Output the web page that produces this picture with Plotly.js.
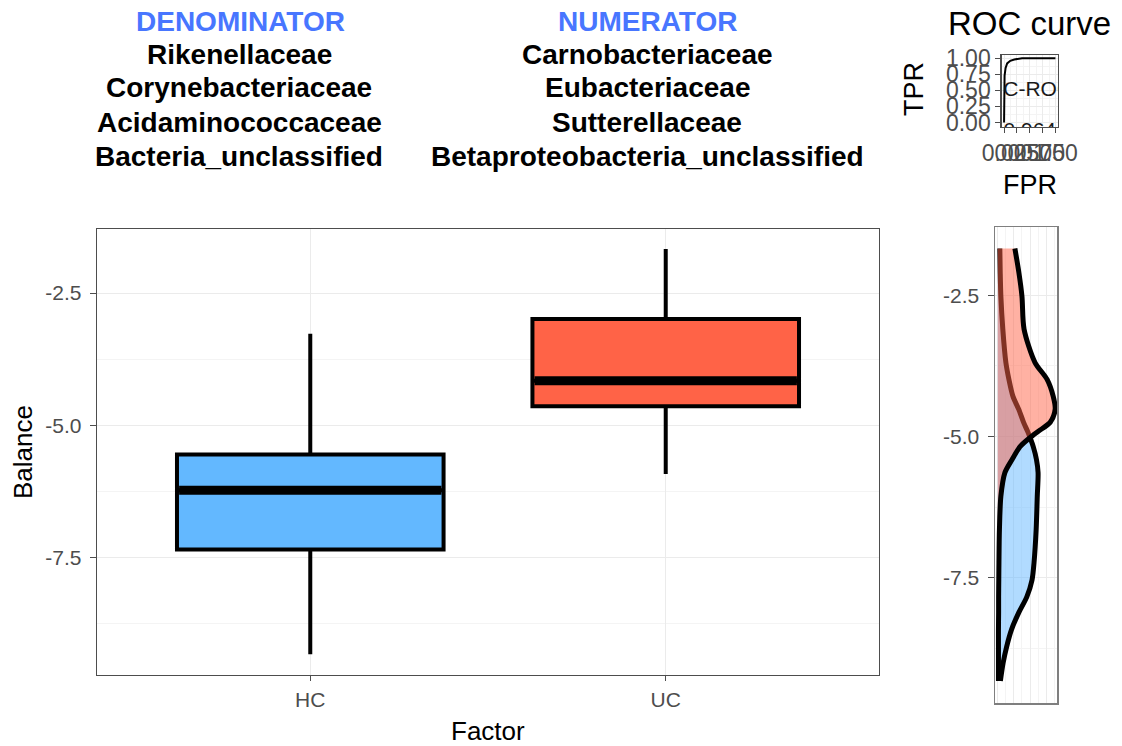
<!DOCTYPE html>
<html>
<head>
<meta charset="utf-8">
<script src="https://cdn.plot.ly/plotly-3.0.1.min.js"></script>
<style>
  html, body { margin: 0; padding: 0; background: #ffffff; }
  #chart { width: 1122px; height: 746px; }
</style>
</head>
<body>
<div id="chart"></div>
<script>
// ---- Balance box plot (per group summary) ----
const categories = ['HC', 'UC'];
const boxLowerFence = [-9.33, -5.92];
const boxQ1 = [-7.35, -4.64];
const boxMedian = [-6.23, -4.16];
const boxQ3 = [-5.55, -2.99];
const boxUpperFence = [-3.27, -1.67];
const boxColors = ['#63B8FF', '#FF6347'];

// ---- Balance densities (flipped: balance on y, density on x) ----
const densityBalance = [-1.67, -2.1, -2.52, -3.1, -3.69, -3.99, -4.29, -4.52, -4.75, -4.91, -5.02, -5.18,
                        -5.41, -5.64, -6.06, -6.65, -7.23, -7.54, -7.84, -8.12, -8.42, -8.72, -9.01, -9.33];
const densityHC = [0.0125, 0.015, 0.019, 0.031, 0.05, 0.069, 0.094, 0.13, 0.16, 0.185, 0.20, 0.22,
                   0.24, 0.25, 0.245, 0.238, 0.225, 0.2125, 0.18, 0.13, 0.085, 0.055, 0.033, 0.016];
const densityUC = [0.106, 0.131, 0.150, 0.163, 0.231, 0.306, 0.344, 0.356, 0.325, 0.25, 0.20, 0.138,
                   0.088, 0.044, 0.019, 0.010, 0.007, 0.006, 0.005, 0.005, 0.004, 0.004, 0.004, 0.004];
const densityFills = ['rgba(99,184,255,0.5)', 'rgba(255,99,71,0.5)'];

// ---- ROC curve ----
const rocFPR = [0, 0, 0.01, 0.03, 0.06, 0.12, 0.2, 0.35, 0.6, 1];
const rocTPR = [0, 0.5, 0.73, 0.85, 0.92, 0.96, 0.98, 1, 1, 1];
const rocLabels = ['AUC-ROC', '0.964'];
const rocLabelX = [0.37, 0.5];
const rocLabelY = [0.5, -0.15];

// ---- Balance composition ----
const denominatorTaxa = ['Rikenellaceae', 'Corynebacteriaceae', 'Acidaminococcaceae', 'Bacteria_unclassified'];
const numeratorTaxa = ['Carnobacteriaceae', 'Eubacteriaceae', 'Sutterellaceae', 'Betaproteobacteria_unclassified'];

// axis ticks
const balanceTicks = [-7.5, -5.0, -2.5];
const balanceTickText = ['-7.5', '-5.0', '-2.5'];
const balanceMinor = [-8.75, -6.25, -3.75];
const rocTicks = [0, 0.25, 0.5, 0.75, 1];
const rocTickText = ['0.00', '0.25', '0.50', '0.75', '1.00'];

const W = 1122, H = 746;
const px = v => v / W;
const py = v => 1 - v / H;
const FONT = 'Liberation Sans, Arial, Helvetica, sans-serif';
const BOX_WIDTH = 0.75;
const GRID = '#EBEBEB';
const GRID_MINOR = '#F4F4F4';
const BORDER = '#4D4D4D';
const TICKCOL = '#4D4D4D';

const traces = [];

categories.forEach((cat, i) => {
  const pos = i + 1;
  traces.push({
    type: 'box', x: [pos], xaxis: 'x', yaxis: 'y',
    q1: [boxQ1[i]], median: [boxMedian[i]], q3: [boxQ3[i]],
    lowerfence: [boxLowerFence[i]], upperfence: [boxUpperFence[i]],
    width: BOX_WIDTH, whiskerwidth: 0, boxpoints: false,
    fillcolor: boxColors[i], line: { color: '#000000', width: 4 },
    hoverinfo: 'skip', name: cat
  });
  // heavier median bar
  traces.push({
    type: 'scatter', mode: 'lines', xaxis: 'x', yaxis: 'y',
    x: [pos - BOX_WIDTH / 2 + 0.006, pos + BOX_WIDTH / 2 - 0.006],
    y: [boxMedian[i], boxMedian[i]],
    line: { color: '#000000', width: 9 }, hoverinfo: 'skip'
  });
});

[densityHC, densityUC].forEach((d, i) => {
  traces.push({
    type: 'scatter', mode: 'lines', xaxis: 'x3', yaxis: 'y3',
    x: d, y: densityBalance, fill: 'tozerox', fillcolor: densityFills[i],
    line: { color: '#000000', width: 5, shape: 'spline', smoothing: 0.8 },
    hoverinfo: 'skip', name: categories[i]
  });
});

traces.push({
  type: 'scatter', mode: 'lines', xaxis: 'x2', yaxis: 'y2',
  x: rocFPR, y: rocTPR, line: { color: '#000000', width: 2 }, hoverinfo: 'skip'
});
traces.push({
  type: 'scatter', mode: 'text', xaxis: 'x2', yaxis: 'y2',
  x: rocLabelX, y: rocLabelY, text: rocLabels, cliponaxis: true,
  textfont: { family: FONT, size: 21, color: '#1A1A1A' }, hoverinfo: 'skip'
});

const tickFont = { family: FONT, size: 21, color: TICKCOL };
const rocTickFont = { family: FONT, size: 23, color: TICKCOL };

const annotations = [];
const header = (text, x, y, color) => annotations.push({
  text: '<b>' + text + '</b>', xref: 'paper', yref: 'paper', x: px(x), y: py(y),
  xanchor: 'center', yanchor: 'middle', showarrow: false,
  font: { family: FONT, size: 28, color: color }
});
header('DENOMINATOR', 240, 21, '#4876FF');
header('NUMERATOR', 647, 21, '#4876FF');
const rowY = [54, 88, 122, 156];
denominatorTaxa.forEach((t, i) => header(t, 239, rowY[i], '#000000'));
numeratorTaxa.forEach((t, i) => header(t, 647, rowY[i], '#000000'));

const plain = (text, x, y, size, angle) => annotations.push({
  text: text, xref: 'paper', yref: 'paper', x: px(x), y: py(y),
  xanchor: 'center', yanchor: 'middle', showarrow: false, textangle: angle || 0,
  font: { family: FONT, size: size, color: '#000000' }
});
plain('Balance', 23, 452, 26, -90);
plain('Factor', 488, 731, 26);
plain('ROC curve', 1029, 23, 33);
plain('TPR', 914, 89, 27, -90);
plain('FPR', 1030, 185, 27);

const layout = {
  width: W, height: H,
  margin: { l: 0, r: 0, t: 0, b: 0 },
  paper_bgcolor: '#ffffff', plot_bgcolor: '#ffffff',
  showlegend: false,
  font: { family: FONT },
  xaxis: {
    domain: [px(97), px(879)], anchor: 'y', range: [0.4, 2.6],
    tickmode: 'array', tickvals: [1, 2], ticktext: categories, tickangle: 0,
    showgrid: true, gridcolor: GRID, gridwidth: 1, zeroline: false,
    showline: true, mirror: true, linecolor: BORDER, linewidth: 1.3,
    ticks: 'outside', ticklen: 5, tickcolor: BORDER, tickfont: tickFont
  },
  yaxis: {
    domain: [py(675), py(229)], anchor: 'x', range: [-9.72, -1.29],
    tickmode: 'array', tickvals: balanceTicks, ticktext: balanceTickText,
    showgrid: true, gridcolor: GRID, gridwidth: 1, zeroline: false,
    minor: { tickmode: 'array', tickvals: balanceMinor, showgrid: true, gridcolor: GRID_MINOR, ticks: '' },
    showline: true, mirror: true, linecolor: BORDER, linewidth: 1.3,
    ticks: 'outside', ticklen: 6, tickcolor: BORDER, tickfont: tickFont, ticklabelstandoff: 4
  },
  xaxis2: {
    domain: [px(1001.5), px(1058)], anchor: 'y2', range: [-0.05, 1.05],
    tickmode: 'array', tickvals: rocTicks, ticktext: rocTickText, tickangle: 0,
    showgrid: true, gridcolor: GRID, zeroline: false,
    minor: { tickmode: 'array', tickvals: [0.125, 0.375, 0.625, 0.875], showgrid: true, gridcolor: GRID_MINOR, ticks: '' },
    showline: true, mirror: true, linecolor: BORDER, linewidth: 1.2,
    ticks: 'outside', ticklen: 5, tickcolor: BORDER, tickfont: rocTickFont
  },
  yaxis2: {
    domain: [py(127), py(55)], anchor: 'x2', range: [-0.07, 1.05],
    tickmode: 'array', tickvals: rocTicks, ticktext: rocTickText,
    showgrid: true, gridcolor: GRID, zeroline: false,
    minor: { tickmode: 'array', tickvals: [0.125, 0.375, 0.625, 0.875], showgrid: true, gridcolor: GRID_MINOR, ticks: '' },
    showline: true, mirror: true, linecolor: BORDER, linewidth: 1.2,
    ticks: 'outside', ticklen: 5, tickcolor: BORDER, tickfont: rocTickFont
  },
  xaxis3: {
    domain: [px(995), px(1057)], anchor: 'y3', range: [-0.0175, 0.3675],
    tickmode: 'array', tickvals: [0, 0.1, 0.2, 0.3], showticklabels: false, ticks: '',
    showgrid: true, gridcolor: GRID, zeroline: false,
    minor: { tickmode: 'array', tickvals: [0.05, 0.15, 0.25, 0.35], showgrid: true, gridcolor: GRID_MINOR, ticks: '' },
    showline: true, mirror: true, linecolor: '#7F7F7F', linewidth: 1.5
  },
  yaxis3: {
    domain: [py(703), py(227)], anchor: 'x3', range: [-9.72, -1.29],
    tickmode: 'array', tickvals: balanceTicks, ticktext: balanceTickText,
    showgrid: true, gridcolor: GRID, zeroline: false,
    minor: { tickmode: 'array', tickvals: balanceMinor, showgrid: true, gridcolor: GRID_MINOR, ticks: '' },
    showline: true, mirror: true, linecolor: '#7F7F7F', linewidth: 1.5,
    ticks: 'outside', ticklen: 6, tickcolor: BORDER, tickfont: tickFont, ticklabelstandoff: 4
  },
  annotations: annotations
};

Plotly.newPlot('chart', traces, layout, { staticPlot: true, displayModeBar: false });
</script>
</body>
</html>
